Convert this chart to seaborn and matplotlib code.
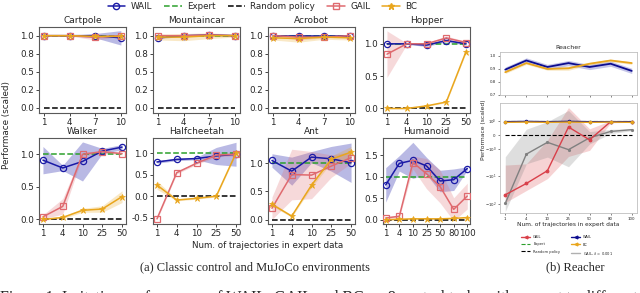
import matplotlib
matplotlib.use("Agg")
import matplotlib.pyplot as plt
import seaborn as sns
from matplotlib.lines import Line2D
from matplotlib.ticker import FormatStrFormatter

# ---------------- data ----------------
traj_short = ["1", "4", "7", "10"]
traj_mujoco = ["1", "4", "10", "25", "50"]
traj_long = ["1", "4", "10", "25", "50", "80", "100"]

cartpole_wail = [1.0, 1.0, 1.0, 0.97]
cartpole_wail_sd = [0.005, 0.005, 0.03, 0.10]
cartpole_gail = [1.0, 1.0, 0.98, 1.0]
cartpole_gail_sd = [0.01, 0.005, 0.04, 0.01]
cartpole_bc = [1.0, 1.0, 0.99, 0.99]
cartpole_bc_sd = [0.005, 0.005, 0.01, 0.01]

mountaincar_wail = [0.97, 1.0, 1.01, 1.0]
mountaincar_wail_sd = [0.01, 0.01, 0.01, 0.01]
mountaincar_gail = [1.0, 1.0, 1.01, 1.0]
mountaincar_gail_sd = [0.02, 0.01, 0.01, 0.01]
mountaincar_bc = [0.98, 0.98, 1.0, 1.0]
mountaincar_bc_sd = [0.04, 0.05, 0.04, 0.02]

acrobot_wail = [0.99, 0.99, 0.99, 0.99]
acrobot_wail_sd = [0.01, 0.01, 0.01, 0.01]
acrobot_gail = [1.0, 0.98, 0.98, 1.0]
acrobot_gail_sd = [0.01, 0.04, 0.01, 0.01]
acrobot_bc = [0.97, 0.96, 0.98, 0.97]
acrobot_bc_sd = [0.03, 0.05, 0.03, 0.03]

hopper_wail = [1.0, 1.0, 0.98, 1.05, 1.0]
hopper_wail_sd = [0.01, 0.01, 0.02, 0.02, 0.02]
hopper_gail = [0.84, 1.0, 1.0, 1.09, 1.02]
hopper_gail_sd = [0.36, 0.01, 0.02, 0.03, 0.02]
hopper_bc = [0.0, 0.0, 0.04, 0.1, 0.88]
hopper_bc_sd = [0.005, 0.005, 0.01, 0.01, 0.02]

walker_wail = [0.91, 0.79, 0.89, 1.05, 1.11]
walker_wail_sd = [0.21, 0.04, 0.30, 0.04, 0.04]
walker_gail = [0.04, 0.2, 1.0, 1.04, 1.01]
walker_gail_sd = [0.03, 0.12, 0.03, 0.02, 0.02]
walker_bc = [0.0, 0.03, 0.14, 0.16, 0.35]
walker_bc_sd = [0.01, 0.02, 0.03, 0.05, 0.09]

halfcheetah_wail = [0.8, 0.86, 0.88, 0.94, 0.98]
halfcheetah_wail_sd = [0.03, 0.03, 0.03, 0.2, 0.28]
halfcheetah_gail = [-0.53, 0.55, 0.77, 0.96, 0.98]
halfcheetah_gail_sd = [0.03, 0.03, 0.03, 0.04, 0.04]
halfcheetah_bc = [0.26, -0.09, -0.05, 0.0, 1.01]
halfcheetah_bc_sd = [0.1, 0.02, 0.02, 0.02, 0.03]

ant_wail = [1.05, 0.86, 1.11, 1.08, 1.01]
ant_wail_sd = [0.12, 0.25, 0.1, 0.22, 0.35]
ant_gail = [0.2, 0.8, 0.79, 0.95, 1.1]
ant_gail_sd = [0.2, 0.45, 0.42, 0.2, 0.1]
ant_bc = [0.27, 0.06, 0.61, 1.07, 1.2]
ant_bc_sd = [0.03, 0.02, 0.04, 0.06, 0.1]

humanoid_wail = [0.81, 1.31, 1.38, 1.25, 0.9, 0.93, 1.19]
humanoid_wail_sd = [0.4, 0.18, 0.42, 0.2, 0.25, 0.25, 0.04]
humanoid_gail = [0.04, 0.08, 1.33, 1.07, 0.77, 0.24, 0.55]
humanoid_gail_sd = [0.02, 0.03, 0.15, 0.35, 0.38, 0.27, 0.3]
humanoid_bc = [0.0, 0.01, 0.02, 0.02, 0.02, 0.03, 0.05]
humanoid_bc_sd = [0.01, 0.01, 0.01, 0.01, 0.01, 0.01, 0.01]

reacher_wail = [0.895, 0.965, 0.915, 0.945, 0.915, 0.94, 0.885]
reacher_wail_sd = [0.02, 0.02, 0.02, 0.02, 0.02, 0.02, 0.02]
reacher_bc = [0.875, 0.945, 0.9, 0.905, 0.94, 0.965, 0.945]
reacher_bc_sd = [0.01, 0.01, 0.01, 0.015, 0.01, 0.01, 0.01]
reacher_wail_all = [0.95, 0.97, 0.95, 0.97, 0.95, 0.95, 0.95]
reacher_bc_all = [0.9, 0.92, 0.9, 0.92, 0.9, 0.92, 0.9]
reacher_gail = [-48, -18.6, -6.4, 0.56, -0.37, 0.95, 0.95]
reacher_gail_sd = [44, 15, 6, 2.5, 0.8, 0.08, 0.05]
reacher_gail_l001 = [-98, -1.6, -0.55, -1.1, -0.22, 0.24, 0.37]
reacher_gail_l001_sd = [96, 2.0, 1.5, 3.5, 0.45, 0.15, 0.08]

# ---------------- style ----------------
sns.set_style("ticks")
plt.rcParams["font.family"] = ["DejaVu Sans"]

C_WAIL = "#1a1aa6"
C_GAIL = "#df6a6f"
C_BC = "#e9a61d"
C_EXP = "#2ca02c"
C_RAND = "black"

fig = plt.figure(figsize=(6.4, 2.93), dpi=100)


def band(ax, x, m, sd, color, alpha):
    lo = [a - b for a, b in zip(m, sd)]
    hi = [a + b for a, b in zip(m, sd)]
    ax.fill_between(x, lo, hi, color=color, alpha=alpha, lw=0)


def draw_env(ax, title, labels, wail, wail_sd, gail, gail_sd, bc, bc_sd, yticks, ylim):
    x = list(range(len(labels)))
    band(ax, x, wail, wail_sd, C_WAIL, 0.3)
    band(ax, x, gail, gail_sd, C_GAIL, 0.25)
    band(ax, x, bc, bc_sd, C_BC, 0.25)
    ax.plot([x[0], x[-1]], [1, 1], ls="--", color=C_EXP, lw=1.1, zorder=3)
    ax.plot([x[0], x[-1]], [0, 0], ls="--", color=C_RAND, lw=1.1, zorder=3)
    sns.lineplot(x=x, y=wail, ax=ax, color=C_WAIL, lw=1.1, marker="o", markersize=4.5,
                 markerfacecolor="none", markeredgecolor=C_WAIL, markeredgewidth=0.9, zorder=4)
    sns.lineplot(x=x, y=gail, ax=ax, color=C_GAIL, lw=1.1, marker="s", markersize=5,
                 markerfacecolor="none", markeredgecolor=C_GAIL, markeredgewidth=0.9, zorder=5)
    sns.lineplot(x=x, y=bc, ax=ax, color=C_BC, lw=1.1, marker="*", markersize=5,
                 markerfacecolor=C_BC, markeredgecolor=C_BC, markeredgewidth=0.5, zorder=6)
    ax.set_xticks(x)
    ax.set_xticklabels(labels)
    ax.set_xlim(-0.2, x[-1] + 0.2)
    ax.set_yticks(yticks)
    ax.yaxis.set_major_formatter(FormatStrFormatter("%.1f"))
    ax.set_ylim(*ylim)
    ax.set_title(title, fontsize=6.5, pad=3)
    ax.tick_params(labelsize=6.3, length=2, width=0.6, pad=1.5)
    for s in ax.spines.values():
        s.set_color("0.35")
        s.set_linewidth(0.8)


lefts = [39, 153, 268, 383]
envs = [
    ("Cartpole", traj_short, cartpole_wail, cartpole_wail_sd, cartpole_gail, cartpole_gail_sd,
     cartpole_bc, cartpole_bc_sd, [0, 0.25, 0.5, 0.75, 1.0], (-0.07, 1.12)),
    ("Mountaincar", traj_short, mountaincar_wail, mountaincar_wail_sd, mountaincar_gail,
     mountaincar_gail_sd, mountaincar_bc, mountaincar_bc_sd, [0, 0.25, 0.5, 0.75, 1.0], (-0.07, 1.12)),
    ("Acrobot", traj_short, acrobot_wail, acrobot_wail_sd, acrobot_gail, acrobot_gail_sd,
     acrobot_bc, acrobot_bc_sd, [0, 0.25, 0.5, 0.75, 1.0], (-0.07, 1.12)),
    ("Hopper", traj_mujoco, hopper_wail, hopper_wail_sd, hopper_gail, hopper_gail_sd,
     hopper_bc, hopper_bc_sd, [0, 0.5, 1.0], (-0.07, 1.26)),
    ("Walker", traj_mujoco, walker_wail, walker_wail_sd, walker_gail, walker_gail_sd,
     walker_bc, walker_bc_sd, [0, 0.5, 1.0], (-0.07, 1.25)),
    ("Halfcheetah", traj_mujoco, halfcheetah_wail, halfcheetah_wail_sd, halfcheetah_gail,
     halfcheetah_gail_sd, halfcheetah_bc, halfcheetah_bc_sd, [-0.5, 0, 0.5, 1.0], (-0.65, 1.36)),
    ("Ant", traj_mujoco, ant_wail, ant_wail_sd, ant_gail, ant_gail_sd,
     ant_bc, ant_bc_sd, [0, 0.5, 1.0], (-0.08, 1.45)),
    ("Humanoid", traj_long, humanoid_wail, humanoid_wail_sd, humanoid_gail, humanoid_gail_sd,
     humanoid_bc, humanoid_bc_sd, [0, 0.5, 1.0, 1.5], (-0.1, 1.9)),
]
W, H = 640.0, 293.0
for i, env in enumerate(envs):
    row, col = divmod(i, 4)
    top = 27 if row == 0 else 138
    ax = fig.add_axes([lefts[col] / W, 1 - (top + 86) / H, 87 / W, 86 / H])
    draw_env(ax, *env)

handles = [
    Line2D([], [], color=C_WAIL, lw=1.1, marker="o", ms=4.5, mfc="none", mec=C_WAIL),
    Line2D([], [], color=C_EXP, lw=1.1, ls="--"),
    Line2D([], [], color=C_RAND, lw=1.1, ls="--"),
    Line2D([], [], color=C_GAIL, lw=1.1, marker="s", ms=5, mfc="none", mec=C_GAIL),
    Line2D([], [], color=C_BC, lw=1.1, marker="*", ms=5),
]
fig.legend(handles, ["WAIL", "Expert", "Random policy", "GAIL", "BC"], loc="upper center",
           bbox_to_anchor=(0.41, 1.02), ncol=5, frameon=False, fontsize=6.3,
           handlelength=2.0, columnspacing=1.4, handletextpad=0.6)

fig.text(7 / W, 1 - 125 / H, "Performace (scaled)", rotation=90, va="center", ha="center", fontsize=6.3)
fig.text(268 / W, 1 - 246 / H, "Num. of trajectories in expert data", ha="center", va="center", fontsize=6.3)

# ---------------- Reacher ----------------
x7 = list(range(len(traj_long)))
ax_t = fig.add_axes([500 / W, 1 - 95 / H, 137 / W, 43 / H])
band(ax_t, x7, reacher_wail, reacher_wail_sd, C_WAIL, 0.25)
band(ax_t, x7, reacher_bc, reacher_bc_sd, C_BC, 0.25)
sns.lineplot(x=x7, y=reacher_wail, ax=ax_t, color="#0d0d8f", lw=1.3)
sns.lineplot(x=x7, y=reacher_bc, ax=ax_t, color=C_BC, lw=1.3)
ax_t.set_ylim(0.7, 1.03)
ax_t.set_yticks([0.7, 0.8, 0.9, 1.0])
ax_t.set_xticks(x7)
ax_t.set_xticklabels([])
ax_t.set_xlim(-0.25, 6.25)
ax_t.set_title("Reacher", fontsize=4.5, pad=2)

ax_b = fig.add_axes([500 / W, 1 - 213 / H, 137 / W, 110 / H])
band(ax_b, x7, reacher_gail, reacher_gail_sd, "#d62728", 0.2)
band(ax_b, x7, reacher_gail_l001, reacher_gail_l001_sd, "#7f7f7f", 0.25)
ax_b.plot([0, 6], [1, 1], ls="--", color=C_EXP, lw=0.8)
ax_b.plot([0, 6], [0, 0], ls="--", color="black", lw=0.8)
sns.lineplot(x=x7, y=reacher_gail_l001, ax=ax_b, color="#808080", lw=1.0, marker="o", markersize=1.5,
             markeredgecolor="#808080")
sns.lineplot(x=x7, y=reacher_gail, ax=ax_b, color="#d9404a", lw=1.0, marker="o", markersize=2,
             markeredgecolor="#d9404a")
sns.lineplot(x=x7, y=reacher_wail_all, ax=ax_b, color="#0d0d8f", lw=1.0, marker="o", markersize=1.8,
             markeredgecolor="#0d0d8f")
sns.lineplot(x=x7, y=reacher_bc_all, ax=ax_b, color=C_BC, lw=1.0, marker="o",
             markersize=1.8, markeredgecolor=C_BC)
ax_b.set_yscale("symlog", linthresh=1, linscale=0.45)
ax_b.set_ylim(-220, 4.5)
ax_b.set_xticks(x7)
ax_b.set_xticklabels(traj_long)
ax_b.set_xlim(-0.25, 6.25)
ax_b.set_xlabel("Num. of trajectories in expert data", fontsize=4.2, labelpad=1)

for a in (ax_t, ax_b):
    a.tick_params(labelsize=2.8, length=1.5, width=0.4, pad=1.2)
    a.tick_params(axis="y", which="minor", length=0)
    for s in a.spines.values():
        s.set_color("0.75")
        s.set_linewidth(0.6)

fig.text(483 / W, 1 - 130 / H, "Performace (scaled)", rotation=90, va="center", ha="center", fontsize=4.3)

r_handles = [
    Line2D([], [], color="#d9404a", lw=1.0, marker="<", ms=2),
    Line2D([], [], color=C_EXP, lw=0.8, ls="--"),
    Line2D([], [], color="black", lw=0.8, ls="--"),
    Line2D([], [], color="#0d0d8f", lw=1.0, marker="<", ms=2),
    Line2D([], [], color=C_BC, lw=1.0, marker="<", ms=2),
    Line2D([], [], color="#b0b0b0", lw=1.0),
]
fig.legend(r_handles, ["GAIL", "Expert", "Random policy", "WAIL", "BC", r"GAIL, $\lambda$ = 0.001"],
           loc="upper left", bbox_to_anchor=(518 / W, 1 - 232 / H), ncol=2, frameon=False,
           fontsize=2.6, handlelength=2.5, columnspacing=3.0, labelspacing=0.9)

# ---------------- captions ----------------
fig.text(255 / W, 1 - 267 / H, "(a) Classic control and MuJoCo environments", ha="center", va="center",
         fontsize=9, family="Liberation Serif")
fig.text(575 / W, 1 - 267 / H, "(b) Reacher", ha="center", va="center", fontsize=9,
         family="Liberation Serif")
fig.text(0.0, -9 / H, "Figure 1: Imitation performance of WAIL, GAIL and BC on 8 control tasks with respect to different",
         ha="left", va="baseline", fontsize=11.5, family="Liberation Serif")

fig.savefig("out.png", dpi=100)
